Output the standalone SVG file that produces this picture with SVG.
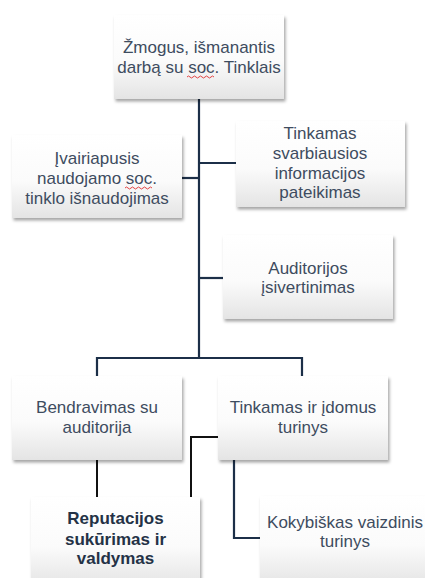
<svg xmlns="http://www.w3.org/2000/svg" width="425" height="578" viewBox="0 0 425 578">
<defs>
<linearGradient id="g" x1="0" y1="0" x2="0" y2="1">
<stop offset="0" stop-color="#ffffff"/>
<stop offset="0.55" stop-color="#fbfbfb"/>
<stop offset="1" stop-color="#e4e4e4"/>
</linearGradient>
<filter id="sh" x="-10%" y="-10%" width="125%" height="130%">
<feDropShadow dx="1.5" dy="2.5" stdDeviation="1.8" flood-color="#000" flood-opacity="0.35"/>
</filter>
</defs>
<style>
.box{fill:url(#g);filter:url(#sh);}
.t{font-family:"Liberation Sans",Arial,sans-serif;font-size:17px;fill:#3E4C60;text-anchor:middle;}
.b{font-weight:bold;fill:#243246;}
.nv{stroke:#1C2F48;stroke-width:2.2;fill:none;}
.bk{stroke:#111111;stroke-width:2;fill:none;}
.sq{stroke:#E03030;stroke-width:0.9;fill:none;}
</style>
<rect width="425" height="578" fill="#ffffff"/>
<g id="connectors">
<path class="nv" d="M199 99 V358"/>
<path class="nv" d="M182 178 H199"/>
<path class="nv" d="M199 163 H236"/>
<path class="nv" d="M199 278 H223"/>
<path class="nv" d="M97 376 V358 H302 V376"/>
<path class="bk" d="M97 460 V497"/>
<path class="bk" d="M218 437 H191 V497"/>
<path class="nv" d="M234 460 V538 H260"/>
</g>
<g id="n1">
<rect class="box" x="114" y="15" width="170" height="84"/>
<text class="t" x="199" y="53">Žmogus, išmanantis</text>
<text class="t" x="199" y="73">darbą su soc. Tinklais</text>
<path class="sq" d="M187 77 q1.5 -2 3 0 t3 0 t3 0 t3 0 t3 0 t3 0 t3 0 t3 0 t3 0"/>
</g>
<g id="n2">
<rect class="box" x="12" y="135" width="170" height="83"/>
<text class="t" x="97" y="164">Įvairiapusis</text>
<text class="t" x="97" y="184">naudojamo soc.</text>
<text class="t" x="97" y="204">tinklo išnaudojimas</text>
<path class="sq" d="M125 188 q1.5 -2 3 0 t3 0 t3 0 t3 0 t3 0 t3 0 t3 0 t3 0 t3 0"/>
</g>
<g id="n3">
<rect class="box" x="236" y="121" width="169" height="86"/>
<text class="t" x="320" y="139">Tinkamas</text>
<text class="t" x="320" y="159">svarbiausios</text>
<text class="t" x="320" y="179">informacijos</text>
<text class="t" x="320" y="198">pateikimas</text>
</g>
<g id="n4">
<rect class="box" x="223" y="235" width="170" height="84"/>
<text class="t" x="308" y="274">Auditorijos</text>
<text class="t" x="308" y="293">įsivertinimas</text>
</g>
<g id="n5">
<rect class="box" x="12" y="376" width="170" height="84"/>
<text class="t" x="97" y="413">Bendravimas su</text>
<text class="t" x="97" y="433">auditorija</text>
</g>
<g id="n6">
<rect class="box" x="218" y="376" width="170" height="84"/>
<text class="t" x="303" y="413">Tinkamas ir įdomus</text>
<text class="t" x="303" y="433">turinys</text>
</g>
<g id="n7">
<rect class="box" x="31" y="497" width="169" height="90"/>
<text class="t b" x="115.5" y="524">Reputacijos</text>
<text class="t b" x="115.5" y="545">sukūrimas ir</text>
<text class="t b" x="115.5" y="564">valdymas</text>
</g>
<g id="n8">
<rect class="box" x="260" y="496" width="170" height="90"/>
<text class="t" x="345" y="528">Kokybiškas vaizdinis</text>
<text class="t" x="345" y="547">turinys</text>
</g>
</svg>
